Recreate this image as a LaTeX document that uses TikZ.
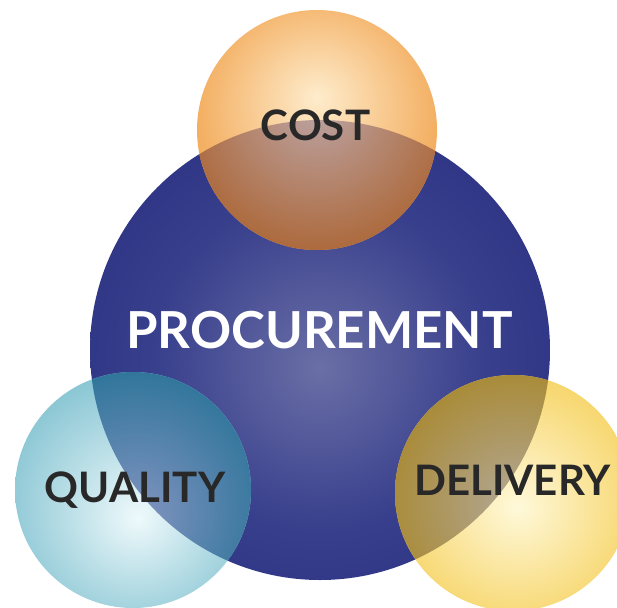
\documentclass[tikz,border=0pt]{standalone}
\usepackage{fontspec}
\setmainfont{Lato}
\usepackage{tikz}
\usetikzlibrary{shadings}

\definecolor{navyOut}{RGB}{28,34,118}
\definecolor{navyMid}{RGB}{56,63,140}
\definecolor{navyIn}{RGB}{106,111,166}
\definecolor{costOut}{RGB}{242,168,86}
\definecolor{costIn}{RGB}{254,236,204}
\definecolor{costOvOut}{RGB}{172,102,54}
\definecolor{costOvIn}{RGB}{188,166,168}
\definecolor{qualOut}{RGB}{118,188,204}
\definecolor{qualIn}{RGB}{238,249,251}
\definecolor{qualOvOut}{RGB}{50,118,156}
\definecolor{qualOvIn}{RGB}{130,148,192}
\definecolor{delOut}{RGB}{244,204,78}
\definecolor{delIn}{RGB}{255,249,218}
\definecolor{delOvOut}{RGB}{168,136,46}
\definecolor{delOvIn}{RGB}{178,168,152}
\definecolor{labelDark}{RGB}{40,40,40}

\pgfdeclareradialshading{procshade}{\pgfpoint{0bp}{-2bp}}{color(0bp)=(navyIn); color(18bp)=(navyMid); color(46bp)=(navyOut); color(60bp)=(navyOut)}
\pgfdeclareradialshading{costshade}{\pgfpoint{0bp}{7bp}}{color(0bp)=(costIn); color(28bp)=(costOut); color(60bp)=(costOut)}
\pgfdeclareradialshading{costovshade}{\pgfpoint{0bp}{6bp}}{color(0bp)=(costOvIn); color(30bp)=(costOvOut); color(60bp)=(costOvOut)}
\pgfdeclareradialshading{qualshade}{\pgfpoint{1bp}{-6bp}}{color(0bp)=(qualIn); color(34bp)=(qualOut); color(60bp)=(qualOut)}
\pgfdeclareradialshading{qualovshade}{\pgfpoint{1bp}{-6bp}}{color(0bp)=(qualOvIn); color(28bp)=(qualOvOut); color(60bp)=(qualOvOut)}
\pgfdeclareradialshading{delshade}{\pgfpoint{1bp}{-3bp}}{color(0bp)=(delIn); color(34bp)=(delOut); color(60bp)=(delOut)}
\pgfdeclareradialshading{delovshade}{\pgfpoint{1bp}{-3bp}}{color(0bp)=(delOvIn); color(30bp)=(delOvOut); color(60bp)=(delOvOut)}

\tikzset{
  bigtext/.style={anchor=base, inner sep=0pt, text=white, font=\fontsize{51}{51}\selectfont\bfseries},
  smalltext/.style={anchor=base, inner sep=0pt, text=labelDark, font=\fontsize{42}{42}\selectfont\bfseries}
}

\begin{document}
\begin{tikzpicture}[x=1pt, y=-1pt]

\clip (0,0) rectangle (617,607);
\fill[white] (0,0) rectangle (617,607);

% big circle
\shade[shading=procshade] (320,350) circle [radius=230];

% outer circles
\shade[shading=costshade] (317,130) circle [radius=120];
\shade[shading=qualshade] (133,490) circle [radius=118];
\shade[shading=delshade]  (513,493) circle [radius=118];

% overlaps
\begin{scope}
  \clip (320,350) circle [radius=230];
  \shade[shading=costovshade] (317,130) circle [radius=120];
  \shade[shading=qualovshade] (133,490) circle [radius=118];
  \shade[shading=delovshade]  (513,493) circle [radius=118];
\end{scope}

% labels
\node [bigtext]   (proc) at (319.5,348) {PROCUREMENT};
\node [smalltext] (cost) at (315.5,140) {COST};
\node [smalltext] (qual) at (135,502)   {QUALITY};
\node [smalltext] (del)  at (512.5,495) {DELIVERY};

\end{tikzpicture}
\end{document}
